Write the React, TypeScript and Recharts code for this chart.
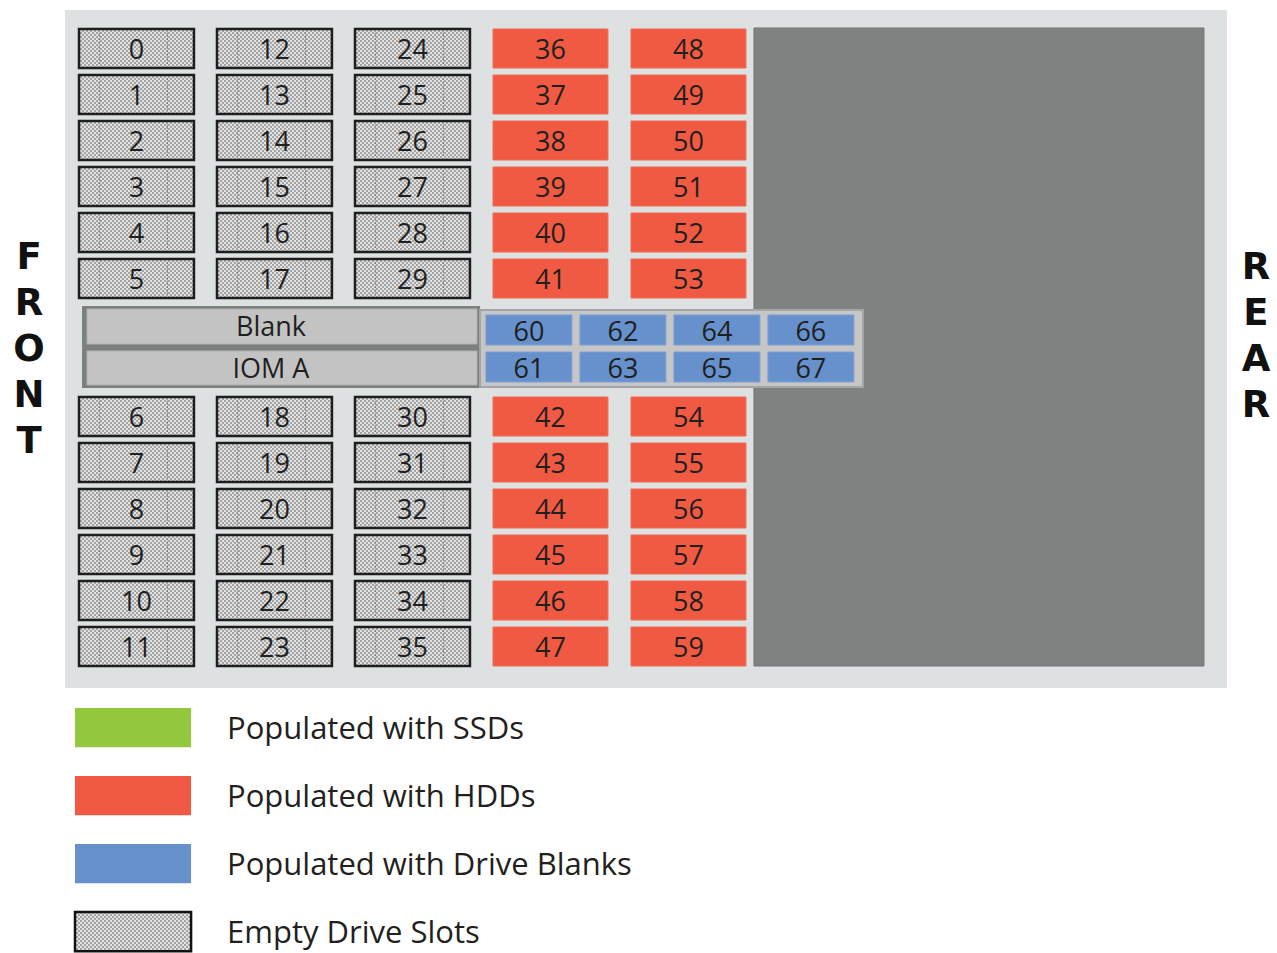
import { ScatterChart, XAxis, YAxis, ReferenceArea, ReferenceLine, ReferenceDot } from 'recharts'

// slot numbers per front-to-rear column (top six rows, then the six rows under the IOM)
const columnSlots = [
    [0, 1, 2, 3, 4, 5, 6, 7, 8, 9, 10, 11],
    [12, 13, 14, 15, 16, 17, 18, 19, 20, 21, 22, 23],
    [24, 25, 26, 27, 28, 29, 30, 31, 32, 33, 34, 35],
    [36, 37, 38, 39, 40, 41, 42, 43, 44, 45, 46, 47],
    [48, 49, 50, 51, 52, 53, 54, 55, 56, 57, 58, 59],
]
const columnKinds = ['empty', 'empty', 'empty', 'hdd', 'hdd']

// drive blanks in the middle bay, two per column
const bayBlanks = [
    [60, 61],
    [62, 63],
    [64, 65],
    [66, 67],
]
const middleModules = ['Blank', 'IOM A']

const frontLetters = ['F', 'R', 'O', 'N', 'T']
const rearLetters = ['R', 'E', 'A', 'R']

const legendLabels = ['Populated with SSDs', 'Populated with HDDs', 'Populated with Drive Blanks', 'Empty Drive Slots']
const legendKinds = ['ssd', 'hdd', 'blank', 'empty']

const FILLS: Record<string, string> = {
    ssd: '#93c83e',
    hdd: '#f15a42',
    blank: '#6791cc',
    empty: 'url(#hatch)',
}

// layout (x in column pitches, y in row pitches)
const SLOT_W = 0.833
const SLOT_H = 0.848
const BAY_X0 = 2.949
const BAY_PITCH = 0.681
const BAY_W = 0.623
const BAY_ROWS = [[6.217, 6.87], [7.022, 7.674]]
const LEGEND_Y0 = 14.76
const LEGEND_PITCH = 1.478

const FONT = '"Open Sans", "Noto Sans", sans-serif'
const SIDE_FONT = '"DejaVu Sans", sans-serif'

function rowOf(i: number) {
    return i < 6 ? i : i + 2
}

export default function App() {
    return (
        <div style={{ position: 'absolute', left: 0, top: 0, background: '#fff' }}>
            <ScatterChart width={1277} height={953} margin={{ top: 0, right: 0, bottom: 0, left: 0 }}>
                <defs>
                    <pattern id="hatch" width="4" height="4" patternUnits="userSpaceOnUse">
                        <rect width="4" height="4" fill="#e2e2e2" />
                        <rect width="2" height="2" fill="#a3a3a3" />
                        <rect x="2" y="2" width="2" height="2" fill="#a3a3a3" />
                    </pattern>
                </defs>
                <XAxis type="number" dataKey="x" domain={[-0.5725, 8.6812]} hide allowDataOverflow />
                <YAxis type="number" dataKey="y" domain={[-0.6304, 20.087]} reversed hide allowDataOverflow />

                {/* enclosure */}
                <ReferenceArea x1={-0.101} x2={8.319} y1={-0.413} y2={14.326} fill="#dde1e1" fillOpacity={1} stroke="none" />
                <ReferenceArea x1={4.891} x2={8.152} y1={-0.022} y2={13.848} fill="#7e8281" fillOpacity={1} stroke="#737776" />

                {/* drive columns */}
                {columnSlots.map((slots, c) =>
                    slots.map((n, i) => {
                        const r = rowOf(i)
                        const kind = columnKinds[c]
                        return (
                            <ReferenceArea
                                key={`s-${n}`}
                                x1={c}
                                x2={c + SLOT_W}
                                y1={r}
                                y2={r + SLOT_H}
                                fill={FILLS[kind]}
                                fillOpacity={1}
                                stroke={kind === 'empty' ? '#1e1e1e' : '#f26a55'}
                                strokeWidth={kind === 'empty' ? 2.5 : 1}
                                label={{ value: String(n), position: 'center', dy: 1, fill: '#1f1f1f', fontSize: 27, fontFamily: FONT }}
                            />
                        )
                    })
                )}
                {columnSlots.map((slots, c) =>
                    columnKinds[c] !== 'empty'
                        ? null
                        : slots.map((n, i) => {
                              const r = rowOf(i)
                              return [0.18, 0.77].map((f) => (
                                  <ReferenceLine
                                      key={`d-${n}-${f}`}
                                      segment={[
                                          { x: c + f * SLOT_W, y: r + 0.08 },
                                          { x: c + f * SLOT_W, y: r + SLOT_H - 0.08 },
                                      ]}
                                      stroke="#555"
                                      strokeDasharray="1 2"
                                  />
                              ))
                          })
                )}

                {/* blank + IOM module */}
                <ReferenceArea x1={0.022} x2={2.906} y1={6.022} y2={7.804} fill="#7b807f" fillOpacity={1} stroke="none" />
                {middleModules.map((name, i) => (
                    <ReferenceArea
                        key={name}
                        x1={0.058}
                        x2={2.884}
                        y1={i === 0 ? 6.087 : 7.0}
                        y2={i === 0 ? 6.848 : 7.739}
                        fill="#c3c3c3"
                        fillOpacity={1}
                        stroke="#b0b0b0"
                        label={{ value: name, position: 'center', dx: -11, fill: '#1f1f1f', fontSize: 27, fontFamily: FONT }}
                    />
                ))}

                {/* drive blank bay */}
                <ReferenceArea x1={2.906} x2={5.681} y1={6.109} y2={7.783} fill="#c6c6c6" fillOpacity={1} stroke="#a2a6a6" strokeWidth={2} />
                {bayBlanks.map((pair, c) =>
                    pair.map((n, r) => (
                        <ReferenceArea
                            key={`b-${n}`}
                            x1={BAY_X0 + c * BAY_PITCH}
                            x2={BAY_X0 + c * BAY_PITCH + BAY_W}
                            y1={BAY_ROWS[r][0]}
                            y2={BAY_ROWS[r][1]}
                            fill={FILLS.blank}
                            fillOpacity={1}
                            stroke="#7f9fd3"
                            label={{ value: String(n), position: 'center', dy: 1, fill: '#1f1f1f', fontSize: 27, fontFamily: FONT }}
                        />
                    ))
                )}

                {/* side labels */}
                {frontLetters.map((ch, i) => (
                    <ReferenceDot
                        key={`f-${i}`}
                        x={-0.362}
                        y={4.935 + i}
                        r={0}
                        stroke="none"
                        label={{ value: ch, position: 'center', fill: '#111', fontSize: 37, fontWeight: 'bold', fontFamily: SIDE_FONT }}
                    />
                ))}
                {rearLetters.map((ch, i) => (
                    <ReferenceDot
                        key={`r-${i}`}
                        x={8.529}
                        y={5.152 + i}
                        r={0}
                        stroke="none"
                        label={{ value: ch, position: 'center', fill: '#111', fontSize: 37, fontWeight: 'bold', fontFamily: SIDE_FONT }}
                    />
                ))}

                {/* legend */}
                {legendLabels.map((text, i) => (
                    <ReferenceArea
                        key={text}
                        x1={-0.029}
                        x2={0.812}
                        y1={LEGEND_Y0 + i * LEGEND_PITCH}
                        y2={LEGEND_Y0 + i * LEGEND_PITCH + 0.855}
                        fill={FILLS[legendKinds[i]]}
                        fillOpacity={1}
                        stroke={legendKinds[i] === 'empty' ? '#111' : 'none'}
                        strokeWidth={2.5}
                        label={{ value: text, position: 'right', offset: 36, fill: '#231f20', fontSize: 31, fontFamily: FONT }}
                    />
                ))}
            </ScatterChart>
        </div>
    )
}
